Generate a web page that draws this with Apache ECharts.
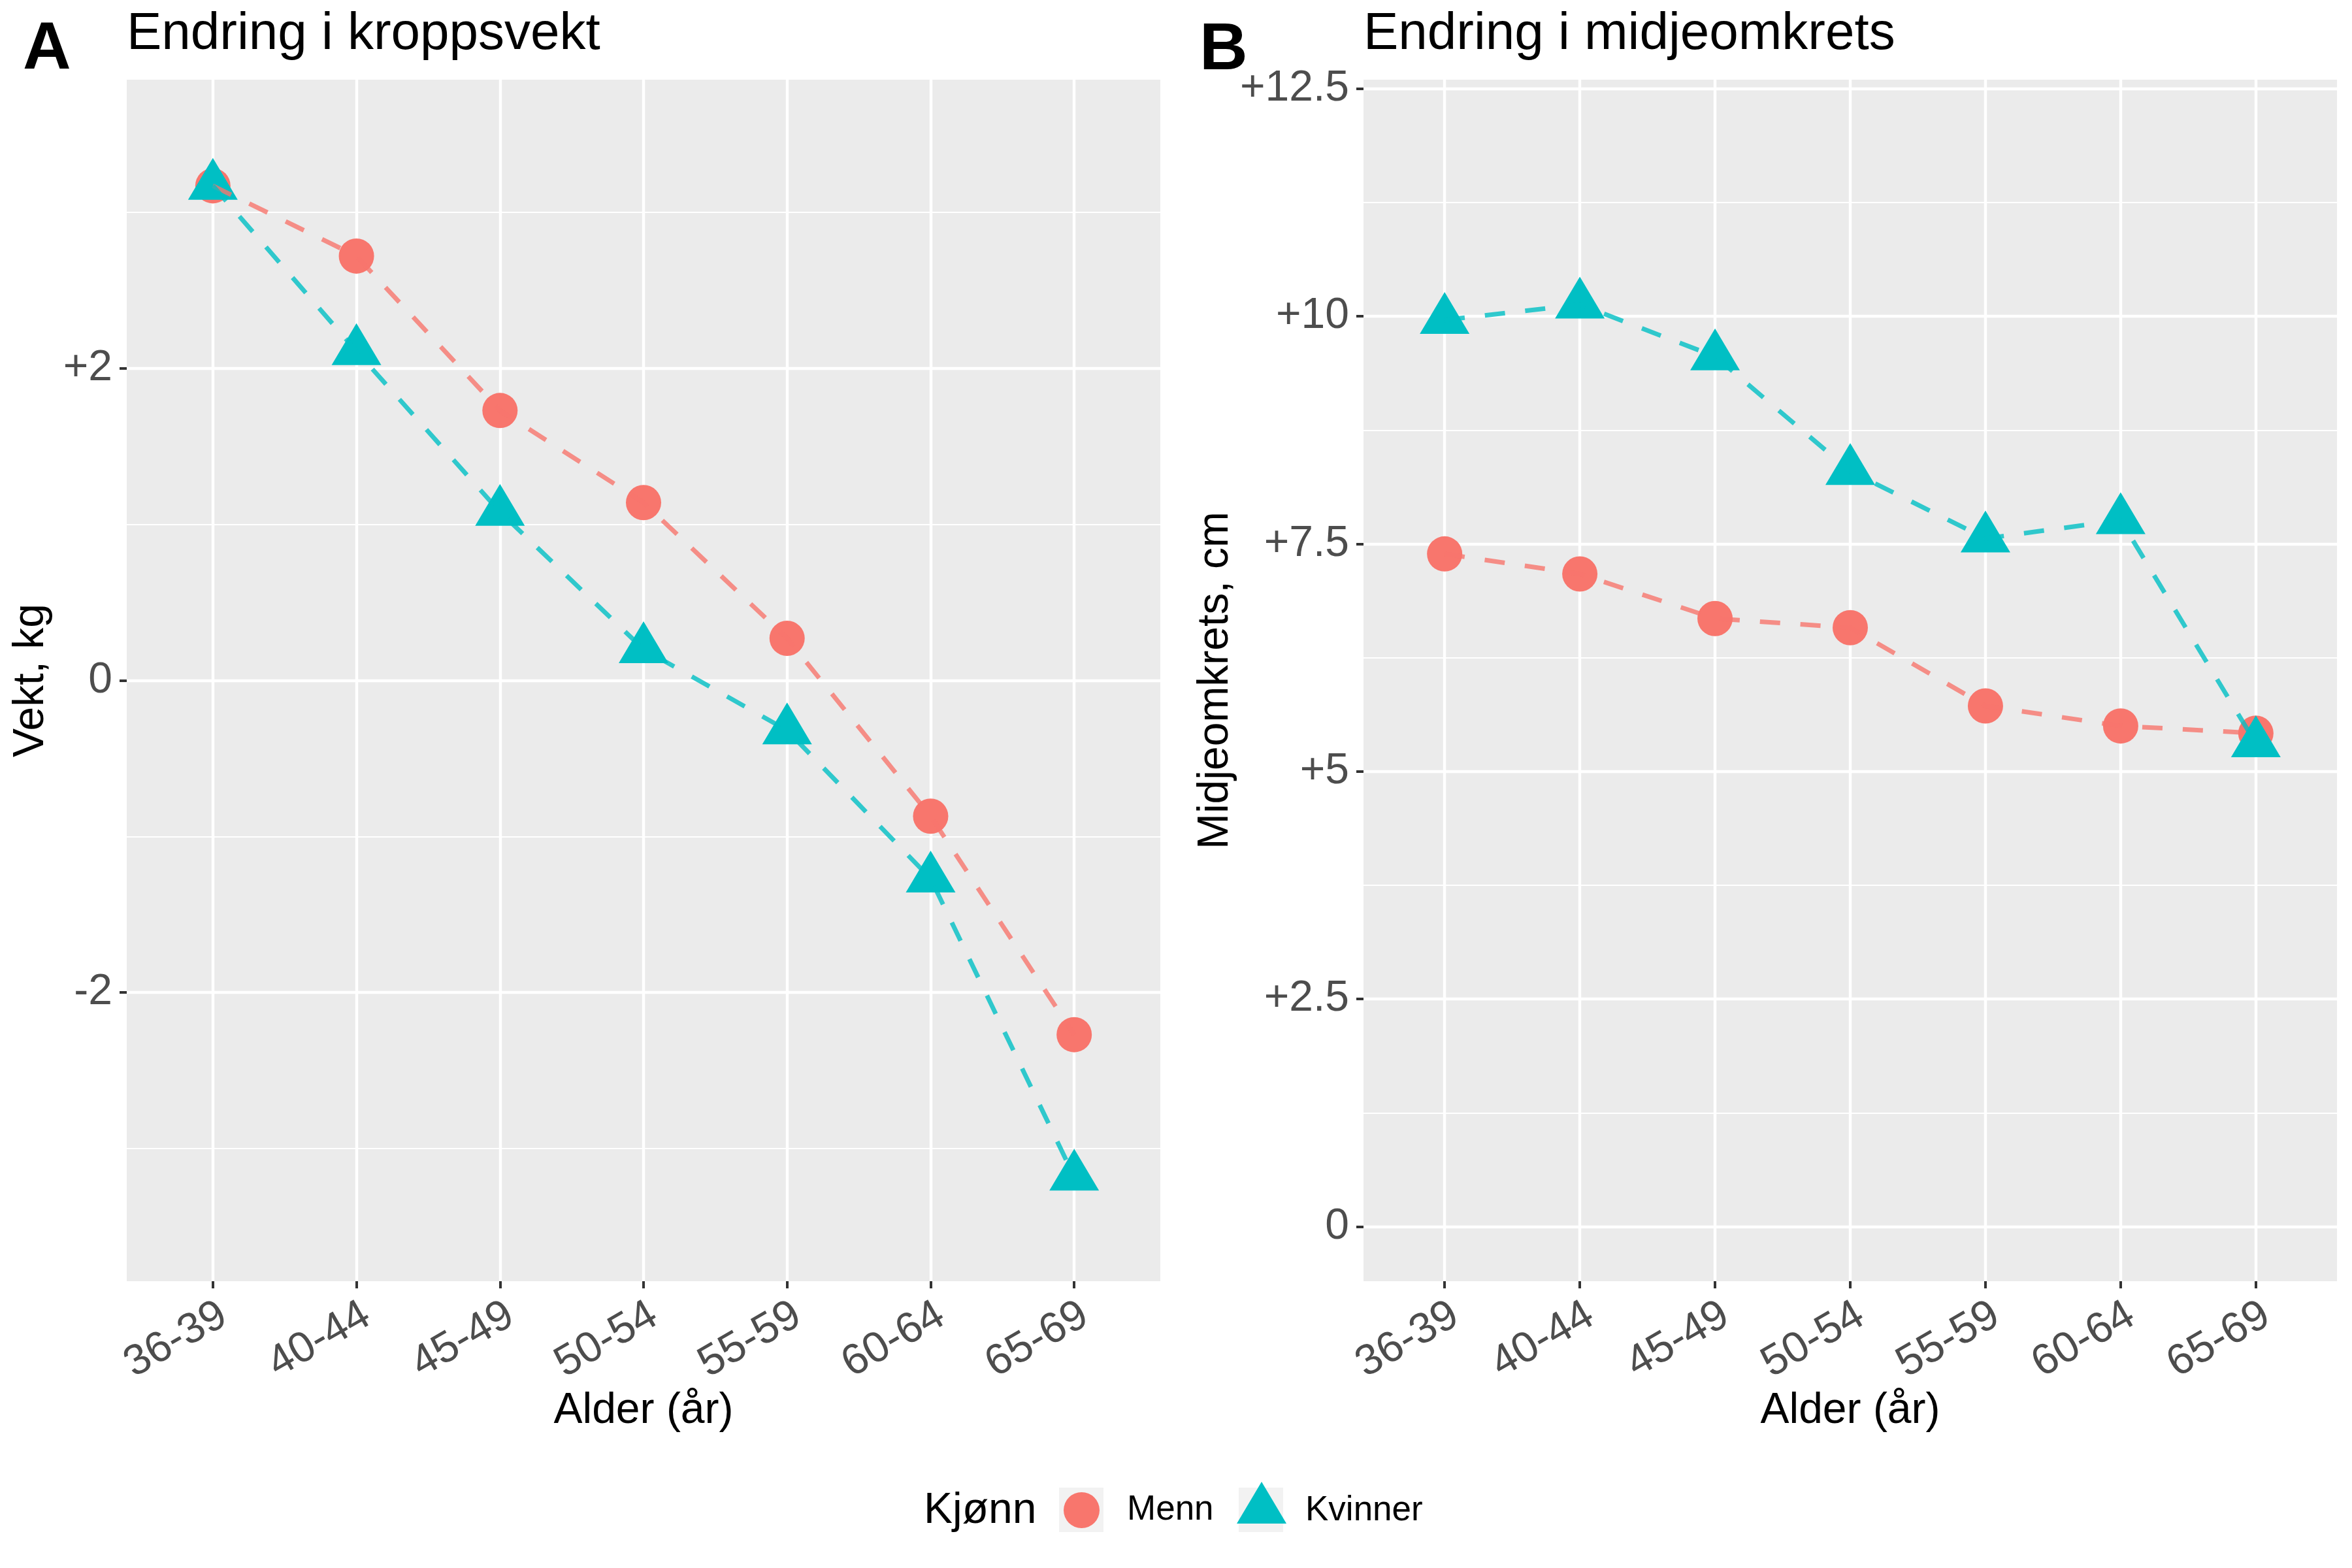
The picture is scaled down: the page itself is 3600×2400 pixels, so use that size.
<!DOCTYPE html>
<html>
<head>
<meta charset="utf-8">
<script src="https://cdn.jsdelivr.net/npm/echarts@6/dist/echarts.min.js"></script>
<style>
html,body{margin:0;padding:0;background:#fff;}
#chart{width:3600px;height:2400px;}
</style>
</head>
<body>
<div id="chart"></div>
<script>
// ---- data ----
const ageGroups = ['36-39', '40-44', '45-49', '50-54', '55-59', '60-64', '65-69'];
const weightMen   = [3.17, 2.72, 1.73, 1.14, 0.27, -0.87, -2.27];
const weightWomen = [3.17, 2.11, 1.08, 0.20, -0.32, -1.27, -3.18];
const waistMen    = [7.39, 7.17, 6.68, 6.58, 5.72, 5.50, 5.42];
const waistWomen  = [9.96, 10.13, 9.56, 8.30, 7.56, 7.76, 5.31];

const weightTicks = [-2, 0, 2];
const weightMinorTicks = [-3, -1, 1, 3];
const waistTicks = [0, 2.5, 5, 7.5, 10, 12.5];
const waistMinorTicks = [1.25, 3.75, 6.25, 8.75, 11.25];
const weightRange = [-3.85, 3.85];
const waistRange = [-0.6, 12.6];
const seriesNames = ['Menn', 'Kvinner'];

// ---- styles ----
const FONT = '"Liberation Sans", Arial, sans-serif';
const C_MEN = '#F8766D', C_WOMEN = '#00BFC4';
const catIdx = ageGroups.map((_, i) => i);
const pairs = vals => vals.map((v, i) => [i, v]);
const fmtSigned = v => (v > 0 ? '+' + v : String(v));

const grids = [
  { left: 194, top: 122, width: 1582, height: 1839, show: true, backgroundColor: '#EBEBEB', borderWidth: 0 },
  { left: 2087, top: 122, width: 1490, height: 1839, show: true, backgroundColor: '#EBEBEB', borderWidth: 0 }
];

function xAxisFor(gi) {
  return {
    type: 'value', gridIndex: gi, min: -0.6, max: 6.6, position: 'bottom',
    name: 'Alder (år)', nameLocation: 'middle', nameGap: 166, nameMoveOverlap: false,
    nameTextStyle: { fontFamily: FONT, fontSize: 66, color: '#000', lineHeight: 66 },
    axisLine: { show: false, onZero: false },
    axisTick: { show: true, customValues: catIdx, length: 11, lineStyle: { color: '#333333', width: 4 } },
    axisLabel: { customValues: catIdx, rotate: 30, align: 'right', verticalAlign: 'top', margin: 19,
      fontFamily: FONT, fontSize: 66, lineHeight: 66, color: '#4D4D4D',
      formatter: v => ageGroups[Math.round(v)] },
    splitLine: { show: true, lineStyle: { color: '#FFFFFF', width: 4.4 } },
    minorSplitLine: { show: false }
  };
}
function yAxisMajor(gi, range, ticks, name) {
  return {
    type: 'value', gridIndex: gi, min: range[0], max: range[1], position: 'left',
    name: name, nameLocation: 'middle', nameRotate: 90, nameGap: 113,
    nameTextStyle: { fontFamily: FONT, fontSize: 66, color: '#000', lineHeight: 66 },
    axisLine: { show: false, onZero: false },
    axisTick: { show: true, customValues: ticks, length: 11, lineStyle: { color: '#333333', width: 4 } },
    axisLabel: { customValues: ticks, margin: 22, fontFamily: FONT, fontSize: 66, color: '#4D4D4D', formatter: fmtSigned },
    splitLine: { show: true, lineStyle: { color: '#FFFFFF', width: 4.4 } },
    z: 3
  };
}
function yAxisMinor(gi, range, ticks) {
  return {
    type: 'value', gridIndex: gi, min: range[0], max: range[1], position: 'left',
    axisLine: { show: false, onZero: false },
    axisTick: { show: false, customValues: ticks },
    axisLabel: { show: false, customValues: ticks },
    splitLine: { show: true, lineStyle: { color: '#FFFFFF', width: 2.2 } },
    z: 2
  };
}

function pointSeries(name, xi, yi, vals) {
  const isMen = name === 'Menn';
  return {
    type: 'scatter', name: name, xAxisIndex: xi, yAxisIndex: yi, data: pairs(vals),
    symbol: isMen ? 'circle' : 'triangle',
    symbolSize: isMen ? 54 : [76, 64],
    symbolOffset: isMen ? [0, 0] : [0, -10.7],
    itemStyle: { color: isMen ? C_MEN : C_WOMEN, opacity: 1 },
    z: isMen ? 3 : 4, silent: true
  };
}
function lineSeries(name, xi, yi, vals) {
  const isMen = name === 'Menn';
  return {
    type: 'line', name: name, xAxisIndex: xi, yAxisIndex: yi, data: pairs(vals),
    symbol: 'none', showSymbol: false,
    lineStyle: { color: isMen ? C_MEN : C_WOMEN, width: 7, type: [31, 31], opacity: 0.8, cap: 'butt' },
    itemStyle: { color: isMen ? C_MEN : C_WOMEN },
    z: isMen ? 5 : 6, silent: true, animation: false
  };
}

// legend triangle with empty space below so text and glyph centre like the reference key
const TRI_ICON = 'path://M38,0L76,64L0,64Z M0,88';

const option = {
  animation: false,
  backgroundColor: '#FFFFFF',
  textStyle: { fontFamily: FONT },
  title: [
    { text: 'Endring i kroppsvekt', left: 194, top: 13, padding: 0,
      textStyle: { fontFamily: FONT, fontSize: 80, fontWeight: 'normal', color: '#000', lineHeight: 80 } },
    { text: 'Endring i midjeomkrets', left: 2087, top: 13, padding: 0,
      textStyle: { fontFamily: FONT, fontSize: 80, fontWeight: 'normal', color: '#000', lineHeight: 80 } }
  ],
  grid: grids,
  xAxis: [xAxisFor(0), xAxisFor(1)],
  yAxis: [
    yAxisMajor(0, weightRange, weightTicks, 'Vekt, kg'),
    yAxisMinor(0, weightRange, weightMinorTicks),
    yAxisMajor(1, waistRange, waistTicks, 'Midjeomkrets, cm'),
    yAxisMinor(1, waistRange, waistMinorTicks)
  ],
  legend: [
    { data: [{ name: seriesNames[0], icon: 'circle' }], left: 1628, top: 2284, itemWidth: 55, itemHeight: 55,
      padding: 0, selectedMode: false,
      textStyle: { fontFamily: FONT, fontSize: 53, color: '#000', padding: [0, 0, 0, 37] } },
    { data: [{ name: seriesNames[1], icon: TRI_ICON }], left: 1893, top: 2268, itemWidth: 76, itemHeight: 88,
      padding: 0, selectedMode: false,
      textStyle: { fontFamily: FONT, fontSize: 53, color: '#000', padding: [0, 0, 0, 24] } }
  ],
  graphic: [
    { type: 'text', left: 35, top: 26, style: { text: 'A', fontFamily: FONT, fontSize: 102, fontWeight: 'bold', fill: '#000' } },
    { type: 'text', left: 1836, top: 27, style: { text: 'B', fontFamily: FONT, fontSize: 102, fontWeight: 'bold', fill: '#000' } },
    { type: 'text', left: 1414, top: 2280, style: { text: 'Kjønn', fontFamily: FONT, fontSize: 66, fill: '#000' } },
    { type: 'rect', shape: { x: 1621, y: 2277, width: 68, height: 68 }, style: { fill: '#F2F2F2' }, z: -1 },
    { type: 'rect', shape: { x: 1896, y: 2277, width: 68, height: 68 }, style: { fill: '#F2F2F2' }, z: -1 }
  ],
  series: [
    pointSeries('Menn', 0, 0, weightMen),
    pointSeries('Kvinner', 0, 0, weightWomen),
    lineSeries('Menn', 0, 0, weightMen),
    lineSeries('Kvinner', 0, 0, weightWomen),
    pointSeries('Menn', 1, 2, waistMen),
    pointSeries('Kvinner', 1, 2, waistWomen),
    lineSeries('Menn', 1, 2, waistMen),
    lineSeries('Kvinner', 1, 2, waistWomen)
  ]
};

const chart = echarts.init(document.getElementById('chart'), null, { renderer: 'canvas', devicePixelRatio: 1, width: 3600, height: 2400 });
chart.setOption(option);
</script>
</body>
</html>
